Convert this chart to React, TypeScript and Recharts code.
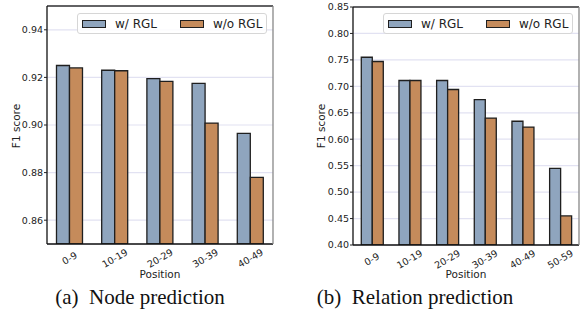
import React from 'react';
import { BarChart, Bar, XAxis, YAxis, CartesianGrid, Legend, Label } from 'recharts';

const nodeCategories = ['0-9', '10-19', '20-29', '30-39', '40-49'];
const nodeWith = [0.925, 0.923, 0.9195, 0.9175, 0.8965];
const nodeWithout = [0.924, 0.9228, 0.9183, 0.9008, 0.878];
const nodeTicks = [0.86, 0.88, 0.9, 0.92, 0.94];

const relCategories = ['0-9', '10-19', '20-29', '30-39', '40-49', '50-59'];
const relWith = [0.755, 0.711, 0.711, 0.675, 0.634, 0.545];
const relWithout = [0.747, 0.711, 0.694, 0.64, 0.623, 0.455];
const relTicks = [0.4, 0.45, 0.5, 0.55, 0.6, 0.65, 0.7, 0.75, 0.8, 0.85];

const seriesNames = ['w/ RGL', 'w/o RGL'];
const captions = ['(a)\u00a0 Node prediction', '(b)\u00a0 Relation prediction'];

const BLUE = '#8fa5be';
const ORANGE = '#c58b5b';
const EDGE = '#1f1f1f';
const GRID = '#e2e2f2';
const FONT = 'DejaVu Sans, sans-serif';

const nodeData = nodeCategories.map((c, i) => ({ cat: c, a: nodeWith[i], b: nodeWithout[i] }));
const relData = relCategories.map((c, i) => ({ cat: c, a: relWith[i], b: relWithout[i] }));

const XTick = (props: any) => {
  const { x, y, payload } = props;
  const cy = y + 14;
  return (
    <text
      x={x}
      y={cy}
      textAnchor="middle"
      dominantBaseline="central"
      transform={`rotate(-30, ${x}, ${cy})`}
      fontSize={9.5}
      fontFamily={FONT}
      fill="#222"
    >
      {payload.value}
    </text>
  );
};

const LegendBox = () => (
  <div
    style={{
      boxSizing: 'border-box',
      width: '100%',
      height: 21,
      border: '1px solid #d6d6d6',
      borderRadius: 3,
      background: 'rgba(255,255,255,0.85)',
      display: 'flex',
      alignItems: 'center',
      fontFamily: FONT,
      fontSize: 12,
      color: '#222',
      paddingLeft: 4,
    }}
  >
    <span style={{ display: 'inline-block', width: 24, height: 8, background: BLUE, border: `1px solid ${EDGE}`, boxSizing: 'border-box' }} />
    <span style={{ marginLeft: 9, width: 65 }}>{seriesNames[0]}</span>
    <span style={{ display: 'inline-block', width: 24, height: 8, background: ORANGE, border: `1px solid ${EDGE}`, boxSizing: 'border-box' }} />
    <span style={{ marginLeft: 9 }}>{seriesNames[1]}</span>
  </div>
);

type PanelProps = {
  data: any[];
  domain: [number, number];
  ticks: number[];
  yWidth: number;
  margin: { top: number; right: number; left: number; bottom: number };
  xHeight: number;
  gap: string;
  legendLeft: number;
  yLabelX: number;
  xLabelX: number;
};

const Panel = (p: PanelProps) => (
  <BarChart
    width={291}
    height={282}
    data={p.data}
    margin={p.margin}
    barCategoryGap={p.gap}
    barGap={0}
  >
    <CartesianGrid vertical={false} stroke={GRID} strokeWidth={1.2} />
    <XAxis
      dataKey="cat"
      height={p.xHeight}
      tickLine={false}
      tickSize={0}
      tickMargin={0}
      axisLine={{ stroke: '#111', strokeWidth: 1.3 }}
      tick={<XTick />}
      interval={0}
    >
      <Label
        content={() => (
          <text x={p.xLabelX} y={274} textAnchor="middle" dominantBaseline="central" fontSize={10.5} fontFamily={FONT} fill="#222">
            Position
          </text>
        )}
      />
    </XAxis>
    <XAxis
      xAxisId="top"
      dataKey="cat"
      orientation="top"
      height={1}
      tick={false}
      tickLine={false}
      axisLine={{ stroke: '#333', strokeWidth: 1.3 }}
    />
    <YAxis
      domain={p.domain}
      ticks={p.ticks}
      type="number"
      width={p.yWidth}
      allowDataOverflow
      tickSize={3}
      tickMargin={1}
      tickLine={{ stroke: '#222' }}
      axisLine={{ stroke: '#111', strokeWidth: 1.3 }}
      tickFormatter={(v: number) => v.toFixed(2)}
      tick={{ fontSize: 9.5, fontFamily: FONT, fill: '#222' }}
    >
      <Label
        content={() => (
          <text
            x={p.yLabelX}
            y={126}
            textAnchor="middle"
            dominantBaseline="central"
            transform={`rotate(-90, ${p.yLabelX}, 126)`}
            fontSize={10.5}
            fontFamily={FONT}
            fill="#222"
          >
            F1 score
          </text>
        )}
      />
    </YAxis>
    <YAxis
      yAxisId="right"
      orientation="right"
      domain={p.domain}
      type="number"
      width={1}
      tick={false}
      tickLine={false}
      axisLine={{ stroke: '#888', strokeWidth: 1.3 }}
    />
    <Legend
      layout="horizontal"
      verticalAlign="middle"
      align="center"
      wrapperStyle={{ top: 13, left: p.legendLeft, width: 190, height: 21 }}
      content={() => <LegendBox />}
    />
    <Bar dataKey="a" name={seriesNames[0]} fill={BLUE} stroke={EDGE} strokeWidth={1.3} isAnimationActive={false} />
    <Bar dataKey="b" name={seriesNames[1]} fill={ORANGE} stroke={EDGE} strokeWidth={1.3} isAnimationActive={false} />
  </BarChart>
);

export default function App() {
  return (
    <div style={{ position: 'absolute', left: 0, top: 0, width: 582, height: 327, background: '#fff' }}>
      <div style={{ position: 'absolute', left: 0, top: 0 }}>
        <Panel
          data={nodeData}
          domain={[0.85, 0.95]}
          ticks={nodeTicks}
          yWidth={47}
          margin={{ top: 5, right: 17, left: 0, bottom: 0 }}
          xHeight={38}
          gap="21%"
          legendLeft={77}
          yLabelX={16}
          xLabelX={160}
        />
      </div>
      <div style={{ position: 'absolute', left: 291, top: 0 }}>
        <Panel
          data={relData}
          domain={[0.4, 0.85]}
          ticks={relTicks}
          yWidth={62}
          margin={{ top: 6, right: 2, left: 0, bottom: 0 }}
          xHeight={37}
          gap="22%"
          legendLeft={92}
          yLabelX={30}
          xLabelX={175}
        />
      </div>
      <div
        style={{
          position: 'absolute',
          left: 40,
          width: 200,
          top: 285,
          textAlign: 'center',
          fontFamily: 'Liberation Serif, Times New Roman, serif',
          fontSize: 21,
          color: '#111',
          whiteSpace: 'nowrap',
        }}
      >
        {captions[0]}
      </div>
      <div
        style={{
          position: 'absolute',
          left: 315,
          width: 200,
          top: 285,
          textAlign: 'center',
          fontFamily: 'Liberation Serif, Times New Roman, serif',
          fontSize: 21,
          color: '#111',
          whiteSpace: 'nowrap',
        }}
      >
        {captions[1]}
      </div>
    </div>
  );
}
